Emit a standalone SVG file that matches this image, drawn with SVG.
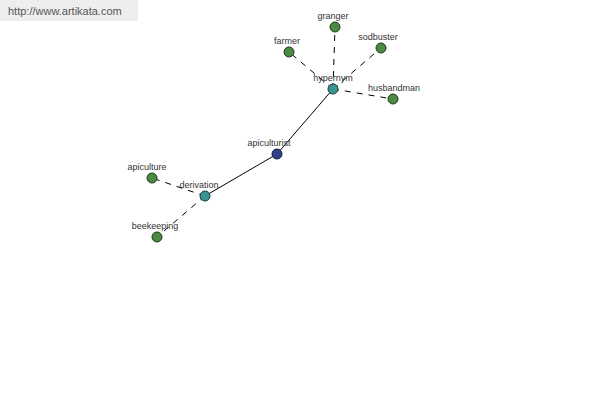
<svg xmlns="http://www.w3.org/2000/svg" width="600" height="400" viewBox="0 0 600 400">
<style>
.lbl{font-family:"Liberation Sans",Arial,sans-serif;font-size:9px;fill:#333;text-anchor:middle}
.leaf{fill:#4a8a42;stroke:#1e3a1a;stroke-width:1}
.mid{fill:#3a9494;stroke:#1a3a3a;stroke-width:1}
.root{fill:#34408c;stroke:#141a3a;stroke-width:1}
.dash{stroke:#000;stroke-width:1;stroke-dasharray:6,6;fill:none}
.solid{stroke:#000;stroke-width:1;fill:none}
</style>
<rect x="0" y="0" width="600" height="400" fill="#fff"/>
<rect x="0" y="0" width="138" height="21" fill="#eeeeee"/>
<text x="8" y="15" font-family="'Liberation Sans',Arial,sans-serif" font-size="11" fill="#555">http://www.artikata.com</text>
<g id="connectors">
<line class="solid" x1="277" y1="154" x2="333" y2="89"/>
<line class="solid" x1="277" y1="154" x2="205" y2="196"/>
<line class="dash" x1="333" y1="89" x2="335" y2="27"/>
<line class="dash" x1="333" y1="89" x2="289" y2="52"/>
<line class="dash" x1="333" y1="89" x2="381" y2="48"/>
<line class="dash" x1="333" y1="89" x2="393" y2="99"/>
<line class="dash" x1="205" y1="196" x2="152" y2="178"/>
<line class="dash" x1="205" y1="196" x2="157" y2="237"/>
</g>
<g id="granger"><circle class="leaf" cx="335" cy="27" r="5"/><text class="lbl" x="333" y="19">granger</text></g>
<g id="farmer"><circle class="leaf" cx="289" cy="52" r="5"/><text class="lbl" x="287" y="44">farmer</text></g>
<g id="sodbuster"><circle class="leaf" cx="381" cy="48" r="5"/><text class="lbl" x="378" y="40">sodbuster</text></g>
<g id="hypernym"><circle class="mid" cx="333" cy="89" r="5"/><text class="lbl" x="333" y="81">hypernym</text></g>
<g id="husbandman"><circle class="leaf" cx="393" cy="99" r="5"/><text class="lbl" x="394" y="91">husbandman</text></g>
<g id="apiculturist"><circle class="root" cx="277" cy="154" r="5"/><text class="lbl" x="269" y="146">apiculturist</text></g>
<g id="apiculture"><circle class="leaf" cx="152" cy="178" r="5"/><text class="lbl" x="147" y="170">apiculture</text></g>
<g id="derivation"><circle class="mid" cx="205" cy="196" r="5"/><text class="lbl" x="199" y="188">derivation</text></g>
<g id="beekeeping"><circle class="leaf" cx="157" cy="237" r="5"/><text class="lbl" x="155" y="229">beekeeping</text></g>
</svg>
